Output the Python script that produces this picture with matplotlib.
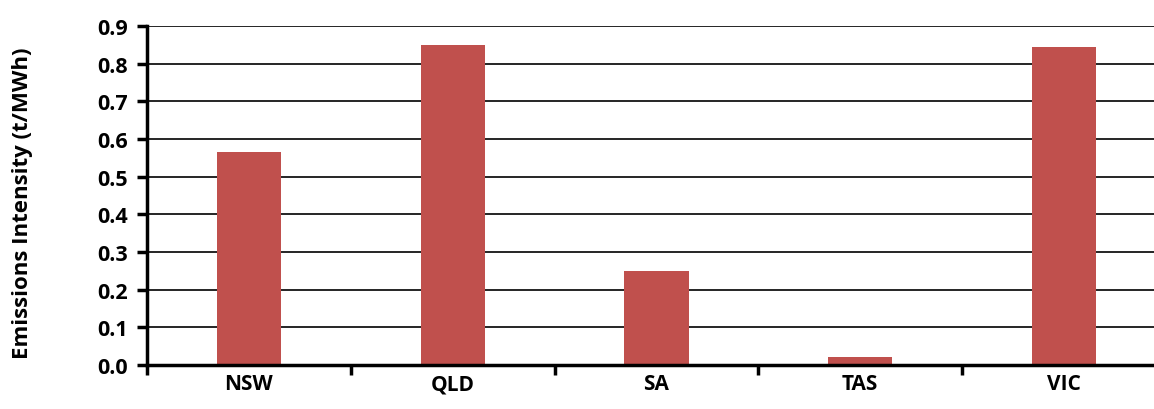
import numpy as np
import matplotlib.pyplot as plt
from matplotlib.ticker import MultipleLocator, FixedLocator

# emissions intensity by region
regions = ['NSW', 'QLD', 'SA', 'TAS', 'VIC']
intensity = [0.566, 0.849, 0.249, 0.020, 0.845]

plt.rcParams['font.family'] = ['Open Sans', 'DejaVu Sans']

fig = plt.figure(figsize=(11.54, 4.10), dpi=100)
ax = fig.add_axes([147 / 1154, 44 / 410, 1019 / 1154, 339 / 410])

x = np.arange(len(regions))
ax.bar(x, intensity, width=0.315, color='#C0504D', zorder=3)

ax.set_xlim(-0.5, len(regions) - 0.5)
ax.set_ylim(0, 0.9)
ax.yaxis.set_major_locator(MultipleLocator(0.1))
ax.set_yticklabels([f'{v:.1f}' for v in ax.get_yticks()], fontsize=15.5, fontweight='bold')
ax.yaxis.grid(True, color='black', linewidth=1.2, zorder=0)

ax.set_xticks(x)
ax.set_xticklabels(regions, fontsize=15, fontweight='bold')
ax.xaxis.set_minor_locator(FixedLocator(np.arange(-0.5, len(regions), 1.0)))
ax.tick_params(axis='x', which='major', length=0, pad=6)
ax.tick_params(axis='x', which='minor', length=7, width=2.5, direction='out')
ax.tick_params(axis='y', length=7, width=2.5, direction='out', pad=7)

for side in ['top', 'right']:
    ax.spines[side].set_visible(False)
for side in ['left', 'bottom']:
    ax.spines[side].set_linewidth(2.5)
    ax.spines[side].set_zorder(4)

ax.set_ylabel('Emissions Intensity (t/MWh)', fontsize=16, fontweight='bold')
ax.yaxis.set_label_coords(-0.112, 0.48)

fig.savefig('out.png', dpi=100)
